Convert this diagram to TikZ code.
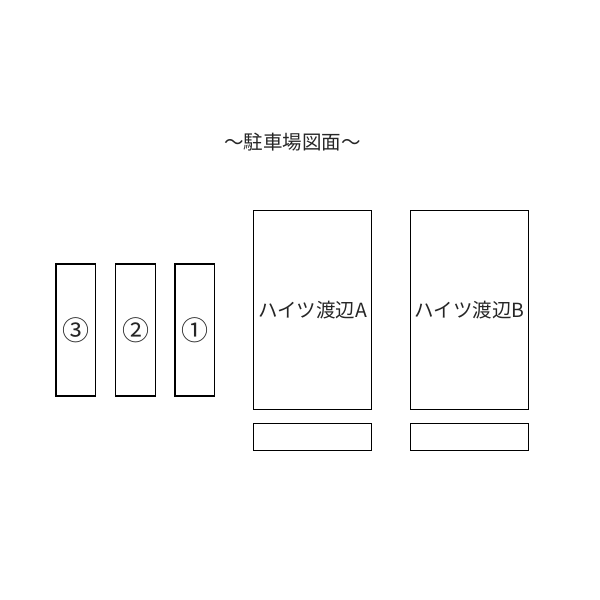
\documentclass[tikz,border=0pt]{standalone}
\usepackage{fontspec}
\newfontfamily\jp{Noto Sans CJK JP}
\begin{document}
\begin{tikzpicture}[x=1pt,y=-1pt,
  box/.style={draw=black,line width=1.3pt,fill=white},
  lbl/.style={font=\jp\fontsize{19.5}{22}\selectfont,inner sep=0pt,text=black!85},
  num/.style={font=\jp\fontsize{27}{30}\selectfont,inner sep=0pt,text=black!85}]
\useasboundingbox[fill=white] (0,0) rectangle (600,600);
\node[lbl] (title) at (292.5,142) {〜駐車場図面〜};
\draw[box] (56,264) rectangle (95.7,396) node[pos=.5,num] (p3) {③};
\draw[box] (115.7,264) rectangle (155.3,396) node[pos=.5,num] (p2) {②};
\draw[box] (175,264) rectangle (214.7,396) node[pos=.5,num] (p1) {①};
\draw[box] (253.7,210.7) rectangle (371.7,409.3) node[pos=.5,lbl] (ha) {ハイツ渡辺A};
\draw[box] (410.7,210.7) rectangle (528.3,409.3) node[pos=.5,lbl] (hb) {ハイツ渡辺B};
\draw[box] (253.7,423.3) coordinate (sa1) rectangle (371.7,450.3) coordinate (sa2);
\draw[box] (410.7,423.3) coordinate (sb1) rectangle (528.3,450.3) coordinate (sb2);
\end{tikzpicture}
\end{document}
